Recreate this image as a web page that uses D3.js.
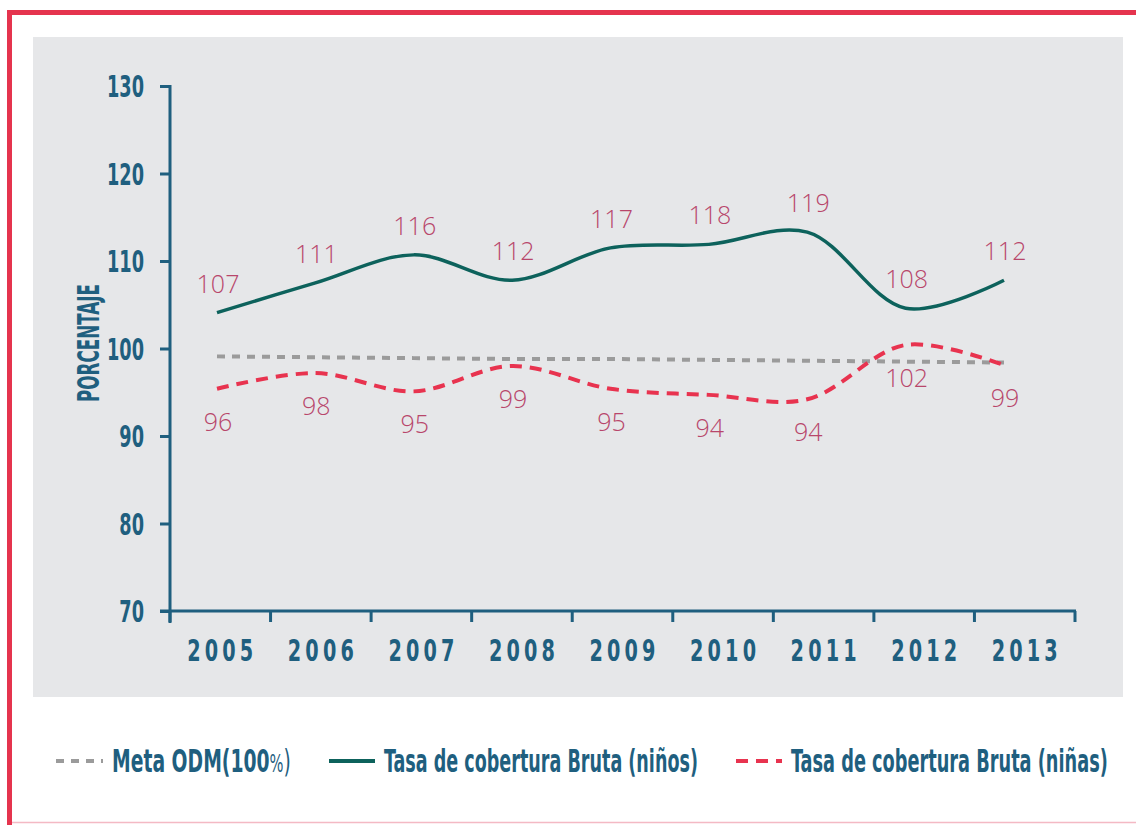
<!DOCTYPE html>
<html>
<head>
<meta charset="utf-8">
<script src="https://cdn.jsdelivr.net/npm/d3@7"></script>
<style>
  body { margin: 0; background: #fff; }
  .cond { font-family: "DejaVu Sans Condensed", "Liberation Sans Narrow", sans-serif; font-weight: bold; font-stretch: condensed; }
  .lbl { font-family: "Open Sans", "Noto Sans", sans-serif; font-weight: 300; }
</style>
</head>
<body>
<div id="chart"></div>
<script>
const years = ["2005", "2006", "2007", "2008", "2009", "2010", "2011", "2012", "2013"];
const yTicks = [70, 80, 90, 100, 110, 120, 130];

// drawn positions of the lines
const ninos = [104.1, 107.5, 110.7, 107.8, 111.5, 111.9, 113.3, 104.6, 107.8];
const ninas = [95.4, 97.2, 95.1, 98.0, 95.4, 94.7, 94.2, 100.4, 98.1];
const meta = [99.1, 99.0, 98.9, 98.8, 98.8, 98.7, 98.6, 98.5, 98.4];

// data labels printed on the chart
const ninosLabels = [107, 111, 116, 112, 117, 118, 119, 108, 112];
const ninasLabels = [96, 98, 95, 99, 95, 94, 94, 102, 99];

const legendItems = ["Meta ODM(100", "Tasa de cobertura Bruta (niños)", "Tasa de cobertura Bruta (niñas)"];

const W = 1136, H = 825;
const axisColor = "#1f5f7f";
const green = "#0d625c";
const red = "#e8334f";
const gray = "#9b9b9b";
const labelColor = "#b8466b";

// squeeze a text horizontally to a given width (condensed look)
function squeeze(node, width, x, y, rot) {
  const len = node.getComputedTextLength();
  const s = width / len;
  d3.select(node).attr("x", 0).attr("y", 0)
    .attr("transform", `translate(${x},${y})` + (rot ? ` rotate(${rot})` : "") + ` scale(${s},1)`);
  return s;
}

const svg = d3.select("#chart").append("svg")
  .attr("width", W)
  .attr("height", H);

// frame
svg.append("rect").attr("x", 0).attr("y", 0).attr("width", W).attr("height", H).attr("fill", "#fff");
svg.append("path")
  .attr("d", "M9.5,825V12.5H1136")
  .attr("fill", "none")
  .attr("stroke", "#e5344e")
  .attr("stroke-width", 5);
svg.append("line")
  .attr("x1", 12).attr("x2", W).attr("y1", 822.5).attr("y2", 822.5)
  .attr("stroke", "#f4b9c4").attr("stroke-width", 1.5);

// panel
svg.append("rect")
  .attr("x", 33).attr("y", 37).attr("width", 1090).attr("height", 660)
  .attr("fill", "#e6e7e9");

const y = d3.scaleLinear().domain([70, 130]).range([611, 86]);
const xBand = d3.scaleBand().domain(years).range([170, 1075]);
const xPt = d3.scalePoint().domain(years).range([217, 1004]);

// y axis
const yAxis = svg.append("g")
  .attr("transform", "translate(170,0)")
  .call(d3.axisLeft(y).tickValues(yTicks).tickSize(10).tickPadding(16))
  .call((g) => g.select(".domain").remove());
yAxis.selectAll("line").attr("stroke", axisColor).attr("stroke-width", 3);
yAxis.selectAll("text").remove();
const yLabs = svg.selectAll(".ylab")
  .data(yTicks)
  .enter()
  .append("text")
  .attr("class", "cond ylab")
  .attr("text-anchor", "end")
  .attr("fill", axisColor)
  .attr("font-size", 30)
  .text((d) => d);
const ySc = 37 / yLabs.filter((d) => d === 130).node().getComputedTextLength();
yLabs.each(function (d) {
  const len = this.getComputedTextLength();
  squeeze(this, len * ySc, 144, y(d) + 11);
});
svg.append("line")
  .attr("x1", 170).attr("x2", 170).attr("y1", 85).attr("y2", 623)
  .attr("stroke", axisColor).attr("stroke-width", 3);

// x axis
svg.append("line")
  .attr("x1", 160).attr("x2", 1076).attr("y1", 611).attr("y2", 611)
  .attr("stroke", axisColor).attr("stroke-width", 3);
const edges = years.map((d) => xBand(d)).concat([xBand.range()[1]]);
svg.selectAll(".xtick")
  .data(edges)
  .enter()
  .append("line")
  .attr("class", "xtick")
  .attr("x1", (d) => d).attr("x2", (d) => d)
  .attr("y1", 611).attr("y2", 622)
  .attr("stroke", axisColor).attr("stroke-width", 3);
svg.selectAll(".xlab")
  .data(years)
  .enter()
  .append("text")
  .attr("class", "cond xlab")
  .attr("fill", axisColor)
  .attr("font-size", 31)
  .attr("letter-spacing", 6)
  .text((d) => d)
  .each(function (d) {
    const len = this.getComputedTextLength();
    const s = 66 / (len - 6);
    d3.select(this)
      .attr("transform", `translate(${xBand(d) + xBand.bandwidth() / 2 - 33},661) scale(${s},1)`);
  });

// y title
svg.append("text")
  .attr("class", "cond")
  .attr("text-anchor", "middle")
  .attr("fill", axisColor)
  .attr("font-size", 31)
  .text("PORCENTAJE")
  .each(function () { squeeze(this, 118, 99, 343, -90); });

// lines
const line = d3.line()
  .x((d, i) => xPt(years[i]))
  .y((d) => y(d))
  .curve(d3.curveCatmullRom.alpha(0.5));

svg.append("path")
  .datum(meta)
  .attr("d", d3.line().x((d, i) => xPt(years[i])).y((d) => y(d)))
  .attr("fill", "none")
  .attr("stroke", gray)
  .attr("stroke-width", 4)
  .attr("stroke-dasharray", "8,7");

svg.append("path")
  .datum(ninos)
  .attr("d", line)
  .attr("fill", "none")
  .attr("stroke", green)
  .attr("stroke-width", 3.5);

svg.append("path")
  .datum(ninas)
  .attr("d", line)
  .attr("fill", "none")
  .attr("stroke", red)
  .attr("stroke-width", 4)
  .attr("stroke-dasharray", "12,8");

// data labels
svg.selectAll(".lblNinos")
  .data(ninosLabels)
  .enter()
  .append("text")
  .attr("class", "lbl lblNinos")
  .attr("x", (d, i) => xPt(years[i]) + 1)
  .attr("y", (d, i) => y(ninos[i]) - 20)
  .attr("text-anchor", "middle")
  .attr("fill", labelColor)
  .attr("font-size", 25)
  .text((d) => d);

svg.selectAll(".lblNinas")
  .data(ninasLabels)
  .enter()
  .append("text")
  .attr("class", "lbl lblNinas")
  .attr("x", (d, i) => xPt(years[i]) + 1)
  .attr("y", (d, i) => y(ninas[i]) + 42)
  .attr("text-anchor", "middle")
  .attr("fill", labelColor)
  .attr("font-size", 25)
  .text((d) => d);

// legend
const lg = svg.append("g");
lg.append("line")
  .attr("x1", 53).attr("x2", 103).attr("y1", 761).attr("y2", 761)
  .attr("stroke", gray).attr("stroke-width", 4)
  .attr("stroke-dasharray", "8,7").attr("stroke-dashoffset", 12);
const t0 = lg.append("text")
  .attr("class", "cond")
  .attr("fill", axisColor)
  .attr("font-size", 32);
t0.append("tspan").text(legendItems[0]);
t0.append("tspan").attr("font-weight", "normal").attr("font-size", 25).text("%");
t0.append("tspan").attr("font-weight", "normal").text(")");
squeeze(t0.node(), 179, 112, 772);

lg.append("line")
  .attr("x1", 329).attr("x2", 375).attr("y1", 761).attr("y2", 761)
  .attr("stroke", green).attr("stroke-width", 4);
lg.append("text")
  .attr("class", "cond")
  .attr("fill", axisColor)
  .attr("font-size", 32)
  .text(legendItems[1])
  .each(function () { squeeze(this, 314, 384, 772); });

lg.append("line")
  .attr("x1", 734).attr("x2", 782).attr("y1", 761).attr("y2", 761)
  .attr("stroke", red).attr("stroke-width", 4)
  .attr("stroke-dasharray", "12,8").attr("stroke-dashoffset", 18);
lg.append("text")
  .attr("class", "cond")
  .attr("fill", axisColor)
  .attr("font-size", 32)
  .text(legendItems[2])
  .each(function () { squeeze(this, 317, 791, 772); });
</script>
</body>
</html>
